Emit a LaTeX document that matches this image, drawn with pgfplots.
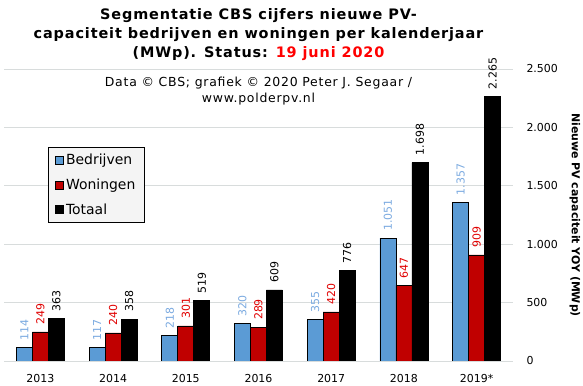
\documentclass[border=0pt]{standalone}
\usepackage{fontspec}
\setmainfont{DejaVu Sans}
\usepackage{pgfplots}
\pgfplotsset{compat=1.18}
\definecolor{cBed}{HTML}{5B9BD5}
\definecolor{cWon}{HTML}{C00000}
\definecolor{cBedL}{HTML}{7BAAE0}
\definecolor{cWonL}{HTML}{E00000}
\definecolor{gridc}{HTML}{D8DCDC}
\definecolor{legfill}{HTML}{F4F4F4}
\begin{document}
\begin{tikzpicture}
\begin{axis}[
  scale only axis, width=509bp, height=292bp,
  ybar, bar width=16bp, ybar=0pt,
  xmin=-0.5, xmax=6.5, ymin=0, ymax=2500,
  xtick={0,1,2,3,4,5,6},
  xticklabels={2013,2014,2015,2016,2017,2018,2019*},
  ytick={0,500,1000,1500,2000,2500},
  yticklabel pos=right,
  ymajorgrids, grid style={draw=gridc, line width=0.9bp},
  axis line style={draw=none},
  major tick length=0pt,
  tick label style={font=\fontsize{11}{13}\selectfont},
  /pgf/number format/assume math mode=true,
  /pgf/number format/1000 sep={.},
  yticklabel style={anchor=west, xshift=10bp},
  xticklabel style={anchor=base, yshift=-21bp},
  ylabel={Nieuwe PV capaciteit YOY (MWp)},
  every axis y label/.style={at={(axis description cs:1,0.5)}, anchor=center, xshift=62bp, rotate=-90, font=\bfseries\fontsize{11}{13}\selectfont},
  nodes near coords,
  every node near coord/.append style={rotate=90, anchor=west, font=\fontsize{11}{13}\selectfont, inner sep=0pt, xshift=7bp},
  legend style={at={(axis description cs:0.0865,0.733)}, anchor=north west, fill=legfill, draw=black, line width=0.8bp, font=\fontsize{14}{16}\selectfont, row sep=8.5bp, inner xsep=7bp, inner ysep=5bp},
  legend cell align=left,
  legend image code/.code={\draw[#1, draw=black, line width=0.6bp] (0bp,-4bp) rectangle (8bp,4bp);},
]
\addplot[fill=cBed, draw=black, line width=0.6bp, nodes near coords style={text=cBedL}] coordinates {(0,114) (1,117) (2,218) (3,320) (4,355) (5,1051) (6,1357)};
\addplot[fill=cWon, draw=black, line width=0.6bp, nodes near coords style={text=cWonL}] coordinates {(0,249) (1,240) (2,301) (3,289) (4,420) (5,647) (6,909)};
\addplot[fill=black, draw=black, line width=0.6bp, nodes near coords style={text=black}] coordinates {(0,363) (1,358) (2,519) (3,609) (4,776) (5,1698) (6,2265)};
\legend{Bedrijven\hspace{3bp},Woningen\hspace{3bp},Totaal}
\end{axis}
\begin{scope}[font=\bfseries\fontsize{14.5}{16}\selectfont]
\node[anchor=base] at ([yshift=49bp]current axis.north) {\addfontfeatures{LetterSpace=6}Segmentatie CBS cijfers nieuwe PV-};
\node[anchor=base] at ([yshift=30bp]current axis.north) {\addfontfeatures{LetterSpace=6}capaciteit bedrijven en woningen per kalenderjaar};
\node[anchor=base] at ([yshift=11bp]current axis.north) {\addfontfeatures{LetterSpace=6}(MWp). Status: \textcolor{red}{19 juni 2020}};
\end{scope}
\begin{scope}[font=\fontsize{12.5}{14}\selectfont]
\node[anchor=base] at ([yshift=-18bp]current axis.north) {\addfontfeatures{LetterSpace=6}Data © CBS; grafiek © 2020 Peter J. Segaar /};
\node[anchor=base] at ([yshift=-34bp]current axis.north) {\addfontfeatures{LetterSpace=6}www.polderpv.nl};
\end{scope}
\pgfresetboundingbox
\path[use as bounding box] (current axis.south west) ++(-4bp,-25bp) rectangle ++(583bp,386bp);
\end{tikzpicture}
\end{document}
